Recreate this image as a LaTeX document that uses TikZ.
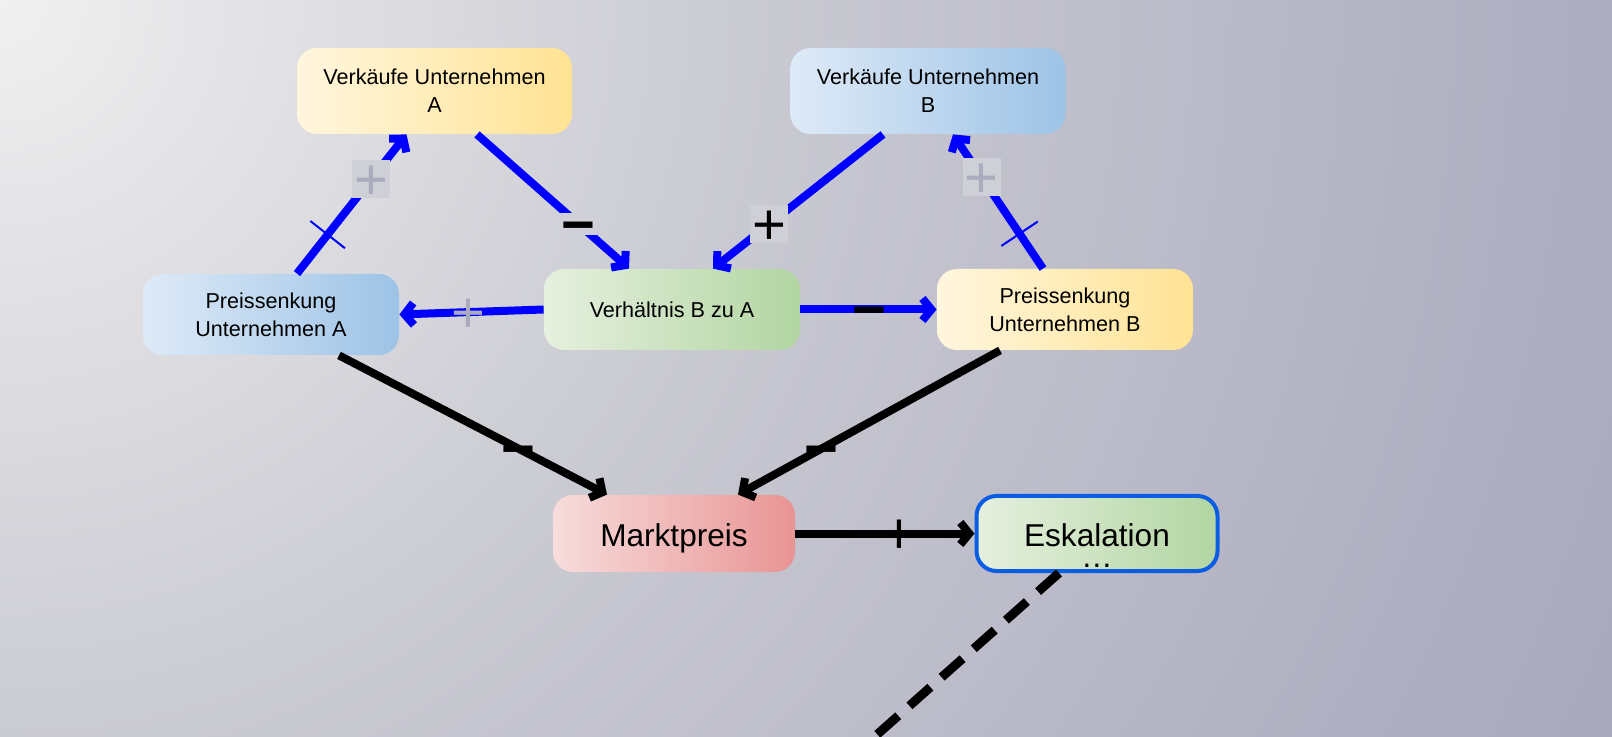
\documentclass[tikz,border=0pt]{standalone}
\usepackage{fontspec}
\setmainfont{Liberation Sans}
\usetikzlibrary{arrows.meta}

\definecolor{bgA}{HTML}{F0F0F0}
\definecolor{bgB}{HTML}{CBCBD3}
\definecolor{bgC}{HTML}{AEADC0}
\definecolor{bgD}{HTML}{A9A8BC}
\definecolor{ylwL}{HTML}{FFF6DE}
\definecolor{ylwR}{HTML}{FFE394}
\definecolor{bluL}{HTML}{DEEAF7}
\definecolor{bluR}{HTML}{9DC3E6}
\definecolor{grnL}{HTML}{E6F0DF}
\definecolor{grnR}{HTML}{B2D5A2}
\definecolor{redL}{HTML}{F8DCDC}
\definecolor{redR}{HTML}{E89494}
\definecolor{signbg}{HTML}{CFCFD7}
\definecolor{signgray}{HTML}{ABABBE}
\definecolor{escborder}{HTML}{0B5EE3}

\pgfdeclareradialshading{bgshade}{\pgfpoint{0bp}{0bp}}{color(0bp)=(bgA); color(10bp)=(bgB); color(22bp)=(bgC); color(25bp)=(bgD); color(50bp)=(bgD)}

\newcommand{\signtxt}[1]{\smash{\raisebox{-.35em}{#1}}}

\tikzset{
  factor/.style={rounded corners=10pt, inner sep=2pt, align=center,
    font=\fontsize{10.8}{13.9}\selectfont, minimum width=128pt, minimum height=40.5pt},
  bigfactor/.style={factor, font=\fontsize{15.8}{18}\selectfont, text height=13.4pt, text depth=0pt,
    minimum width=121pt, minimum height=38.5pt},
  ylwfactor/.style={factor, left color=ylwL, middle color=ylwR!70!ylwL, right color=ylwR},
  blufactor/.style={factor, left color=bluL, middle color=bluR!70!bluL, right color=bluR},
  grnfactor/.style={factor, left color=grnL, middle color=grnR!70!grnL, right color=grnR},
  redfactor/.style={factor, left color=redL, middle color=redR!70!redL, right color=redR},
  bluelink/.style={line width=4pt, blue, -{Straight Barb[length=4.5pt,width=11pt]}},
  blacklink/.style={line width=4pt, black, -{Straight Barb[length=4.5pt,width=11pt]}},
  dashlink/.style={line width=4.5pt, black, dash pattern=on 14pt off 7.5pt},
  sign/.style={inner sep=0pt, minimum width=19pt, minimum height=19pt, text=black,
    font=\fontsize{29}{29}\selectfont},
  signbox/.style={sign, fill=signbg},
  minusbox/.style={minimum height=11pt, font=\fontsize{29}{29}\selectfont\bfseries},
  delaymark/.style={draw=blue, line width=1pt, inner sep=0pt, minimum width=0pt, minimum height=22pt}
}

\begin{document}
\begin{tikzpicture}[x=5pt,y=-5pt]
  \useasboundingbox (0,0) rectangle (161.2,73.7);
  \clip (0,0) rectangle (161.2,73.7);
  \shade[shading=bgshade] (0,0) circle (900pt);

  \node[ylwfactor, minimum width=137.5pt, minimum height=43pt] (vkA) at (43.45,9.1) {Verkäufe Unternehmen\\A};
  \node[blufactor, minimum width=137.5pt, minimum height=43pt] (vkB) at (92.8,9.1) {Verkäufe Unternehmen\\B};
  \node[blufactor] (psA) at (27.1,31.45) {Preissenkung\\Unternehmen A};
  \node[grnfactor] (ratio) at (67.2,30.95) {Verhältnis B zu A};
  \node[ylwfactor] (psB) at (106.5,30.95) {Preissenkung\\Unternehmen B};
  \node[redfactor, bigfactor] (price) at (67.4,53.35) {Marktpreis};
  \node[grnfactor, bigfactor, draw=escborder, line width=2pt, minimum width=120.5pt, minimum height=37.5pt,
    label={[font=\fontsize{15.8}{18}\selectfont, yshift=-16pt]center:…}] (esc) at (109.7,53.35) {Eskalation};

  \coordinate (offpage) at (80.0,80.3);

  \draw[bluelink] ([xshift=13pt]psA.north) -- node[pos=0.28, sloped, delaymark] {}
    node[pos=0.68, signbox, text=signgray] {\signtxt{+}} ([xshift=-14pt]vkA.south);
  \draw[bluelink] ([xshift=21.25pt]vkA.south) -- node[pos=0.67, signbox, minusbox] {\signtxt{−}} ([xshift=-21.5pt]ratio.north);
  \draw[bluelink] ([xshift=-22.5pt]vkB.south) -- node[pos=0.67, signbox] {\signtxt{+}} ([xshift=20.5pt]ratio.north);
  \draw[bluelink] ([xshift=-11pt]psB.north) -- node[pos=0.26, sloped, delaymark] {}
    node[pos=0.68, signbox, text=signgray] {\signtxt{+}} ([xshift=12.5pt]vkB.south);
  \draw[bluelink] (ratio.west) -- node[pos=0.52, sign, text=signgray] {\signtxt{+}} (psA.east);
  \draw[bluelink] (ratio.east) -- node[pos=0.51, sign, minusbox] {\signtxt{−}} (psB.west);
  \draw[blacklink] ([xshift=34pt]psA.south) -- node[pos=0.67, sign, minusbox] {\signtxt{−}} ([xshift=-33.5pt]price.north);
  \draw[blacklink] ([xshift=-32.5pt]psB.south) -- node[pos=0.68, sign, minusbox] {\signtxt{−}} ([xshift=32pt]price.north);
  \draw[blacklink] (price.east) -- node[pos=0.58, sign] {\signtxt{+}} (esc.west);
  \draw[dashlink] ([xshift=-19pt]esc.south) -- (offpage);
\end{tikzpicture}
\end{document}
